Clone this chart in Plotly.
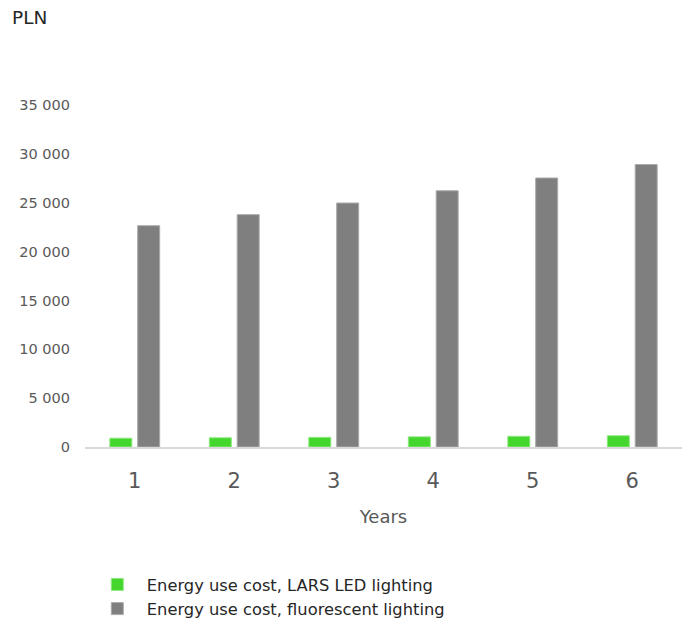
import plotly.graph_objects as go

# Energy cost per year, PLN
years = ["1", "2", "3", "4", "5", "6"]
led_cost = [900, 945, 990, 1040, 1095, 1150]
fluorescent_cost = [22650, 23780, 24970, 26220, 27530, 28910]

y_ticks = [0, 5000, 10000, 15000, 20000, 25000, 30000, 35000]
y_tick_text = ["0", "5 000", "10 000", "15 000", "20 000", "25 000", "30 000", "35 000"]

FONT = "'DejaVu Sans', 'Open Sans', sans-serif"
TEXT = "#595959"
DARK = "#262626"

fig = go.Figure()
fig.add_trace(go.Bar(
    x=years, y=led_cost, name="Energy use cost, LARS LED lighting",
    marker=dict(color="#44d62c", line=dict(color="#8fe882", width=1)),
))
fig.add_trace(go.Bar(
    x=years, y=fluorescent_cost, name="Energy use cost, fluorescent lighting",
    marker=dict(color="#7f7f7f", line=dict(color="#ababab", width=1)),
))

fig.update_layout(
    width=686, height=618,
    margin=dict(l=85, r=4, t=105, b=171, autoexpand=False),
    paper_bgcolor="white", plot_bgcolor="white",
    font=dict(family=FONT, color=TEXT),
    barmode="group", bargap=0.44, bargroupgap=0.21,
    showlegend=True,
    legend=dict(
        orientation="v", xref="container", yref="container",
        x=0.128, xanchor="left", y=0.082, yanchor="top",
        font=dict(size=16.3, color=DARK, family=FONT),
        itemwidth=49, traceorder="normal",
        itemclick=False, itemdoubleclick=False,
    ),
    annotations=[dict(
        text="PLN", xref="paper", yref="paper", x=-0.125, y=1.0,
        xanchor="left", yanchor="middle", yshift=88, showarrow=False,
        font=dict(size=18.5, color=DARK, family=FONT),
    )],
)

fig.update_xaxes(
    type="category", showline=True, linecolor="#d9d9d9", linewidth=2,
    showgrid=False, ticks="", tickfont=dict(size=21, color=TEXT),
    ticklabelstandoff=14,
    title=dict(text="Years", font=dict(size=18, color=TEXT), standoff=18),
)
fig.update_yaxes(
    range=[0, 35000], tickvals=y_ticks, ticktext=y_tick_text,
    showgrid=False, zeroline=False, showline=False, ticks="",
    tickfont=dict(size=14.5, color=TEXT), ticklabelstandoff=14,
)

fig.write_html("out.html")
